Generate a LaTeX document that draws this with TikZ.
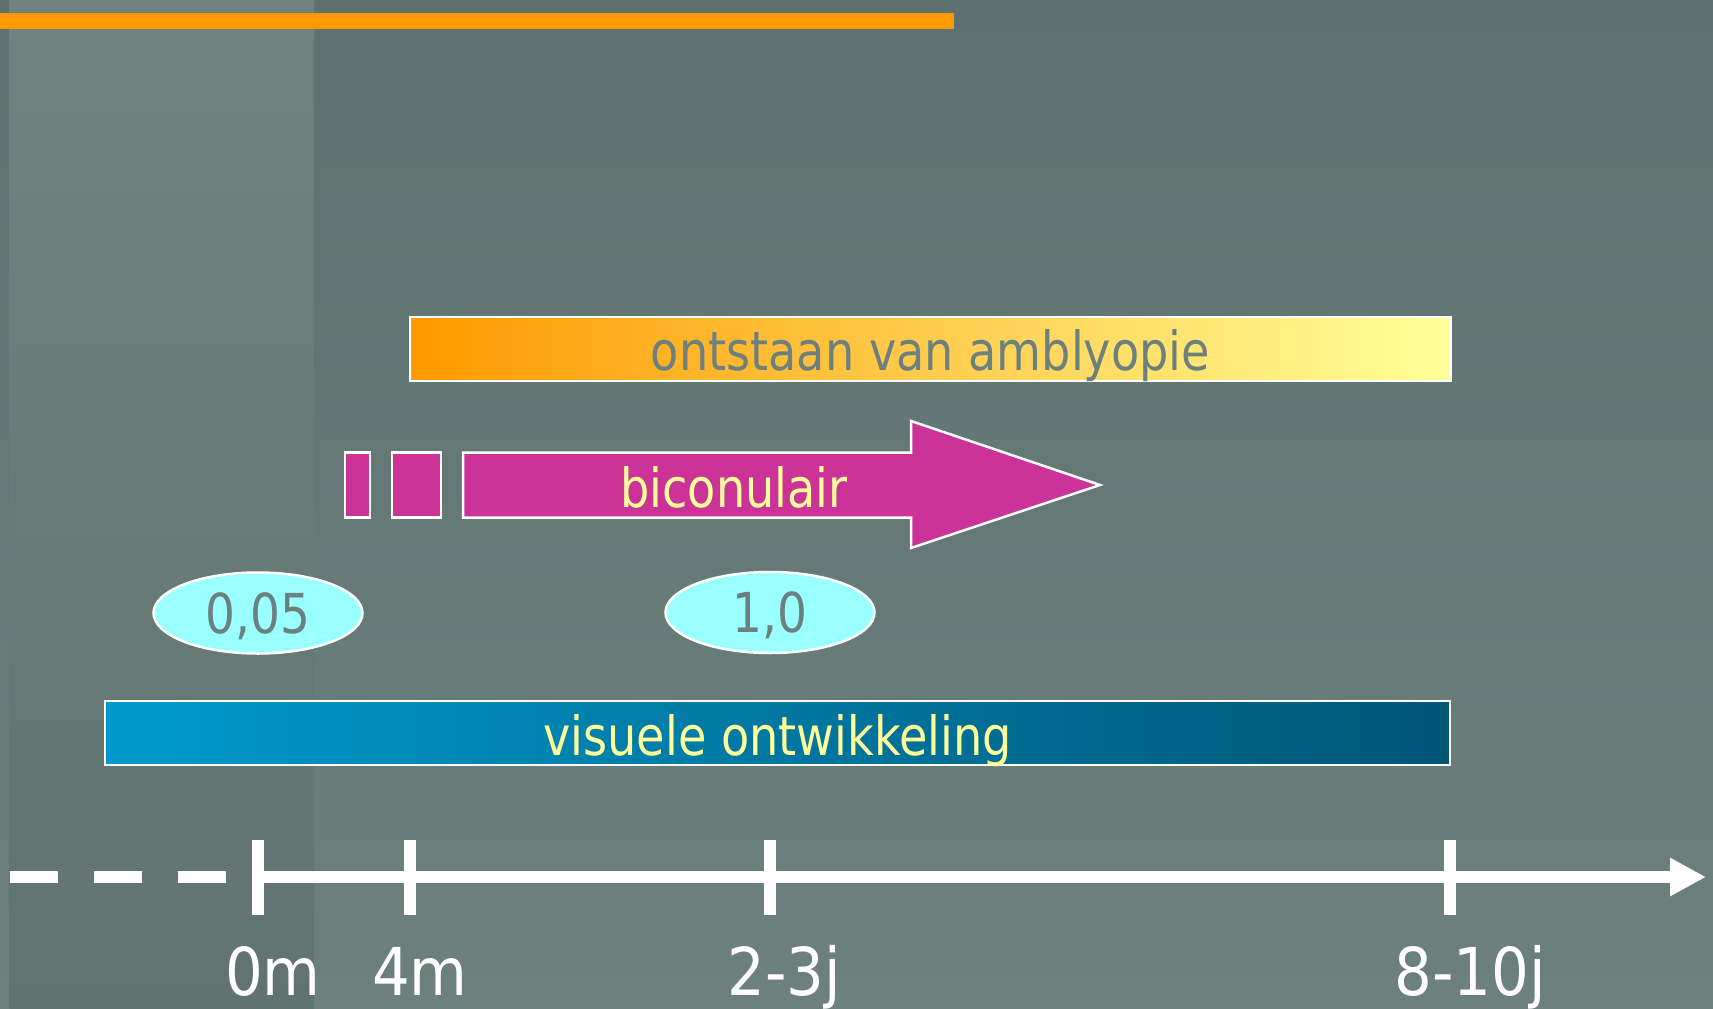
\documentclass[tikz,border=0pt]{standalone}
\usepackage{fontspec}
\setmainfont{DejaVu Sans Condensed}
\newfontfamily\barfont[FakeStretch=0.95]{DejaVu Sans Condensed}
\usetikzlibrary{arrows.meta,shapes.geometric}
\definecolor{bgtop}{RGB}{94,113,112}
\definecolor{bgbot}{RGB}{108,128,126}
\definecolor{bandtop}{RGB}{110,131,128}
\definecolor{bandbot}{RGB}{97,115,113}
\definecolor{orng}{RGB}{255,153,0}
\definecolor{paleyel}{RGB}{255,255,153}
\definecolor{magen}{RGB}{204,51,153}
\definecolor{cyanov}{RGB}{153,255,255}
\definecolor{blueL}{RGB}{0,153,204}
\definecolor{blueR}{RGB}{0,85,119}
\definecolor{txtgray}{RGB}{108,128,126}
\tikzset{
  barbox/.style={draw=white, line width=2.5pt, rectangle, inner sep=0pt},
  oval/.style={ellipse, draw=white, line width=2.5pt, fill=cyanov, inner sep=0pt,
     minimum width=209pt, minimum height=81pt, text=txtgray,
     font=\barfont\fontsize{55}{60}\selectfont, text height=44pt, text depth=4pt},
  axislbl/.style={text=white, font=\fontsize{66}{70}\selectfont, anchor=base, inner sep=0pt},
  axisline/.style={white, line width=12pt},
  tick/.style={white, line width=12pt},
}
\begin{document}
\begin{tikzpicture}[x=1pt,y=-1pt]
\useasboundingbox (0,0) rectangle (1713,1009);
% background
\shade[top color=bgtop, bottom color=bgbot] (0,0) rectangle (1713,1009);
\shade[top color=bandtop, bottom color=bandbot] (9.6,0) rectangle (314,1009);
% orange line
\fill[orng] (0,13) rectangle (954,29);
% amblyopie bar
\node[barbox, left color=orng, right color=paleyel, minimum width=1041pt, minimum height=64pt,
  text=txtgray, font=\barfont\fontsize{54}{60}\selectfont, text height=50pt, text depth=8pt]
  (amb) at (930.5,349) {ontstaan van amblyopie};
% magenta pieces
\node[barbox, fill=magen, minimum width=25pt, minimum height=65pt] (r1) at (357.5,485) {};
\node[barbox, fill=magen, minimum width=49pt, minimum height=65pt] (r2) at (416.5,485) {};
\draw[white, line width=2.5pt, fill=magen, line join=miter]
  (463,452.5) -- (911,452.5) -- (911,421) -- (1100,485) -- (911,548) -- (911,517.5) -- (463,517.5) -- cycle;
\node[text=paleyel, font=\barfont\fontsize{54}{60}\selectfont, anchor=base, inner sep=0pt] (bic) at (734,507) {biconulair};
% ovals
\node[oval] (o1) at (258,613) {0,05};
\node[oval] (o2) at (770,612.5) {1,0};
% visuele ontwikkeling bar
\node[barbox, left color=blueL, right color=blueR, minimum width=1345pt, minimum height=64pt,
  text=paleyel, font=\barfont\fontsize{54}{60}\selectfont, text height=52pt, text depth=8pt]
  (vis) at (777.5,733) {visuele ontwikkeling};
% axis
\coordinate (start) at (9.6,877);
\coordinate (t0) at (258,877);
\coordinate (t1) at (410,877);
\coordinate (t2) at (770,877);
\coordinate (t3) at (1450,877);
\coordinate (tip) at (1706,877);
\draw[axisline, dash pattern=on 48.4pt off 35.6pt] (start) -- (226,877);
\draw[axisline, -{Triangle[length=36pt,width=36pt]}] (t0) -- (tip);
\foreach \t in {t0,t1,t2,t3} \draw[tick] ([yshift=-38pt]\t) -- ([yshift=37pt]\t);
\node[axislbl] (l0) at (273,995) {0m};
\node[axislbl] (l1) at (420,995) {4m};
\node[axislbl] (l2) at (784,995) {2-3j};
\node[axislbl] (l3) at (1470,995) {8-10j};
\end{tikzpicture}
\end{document}
